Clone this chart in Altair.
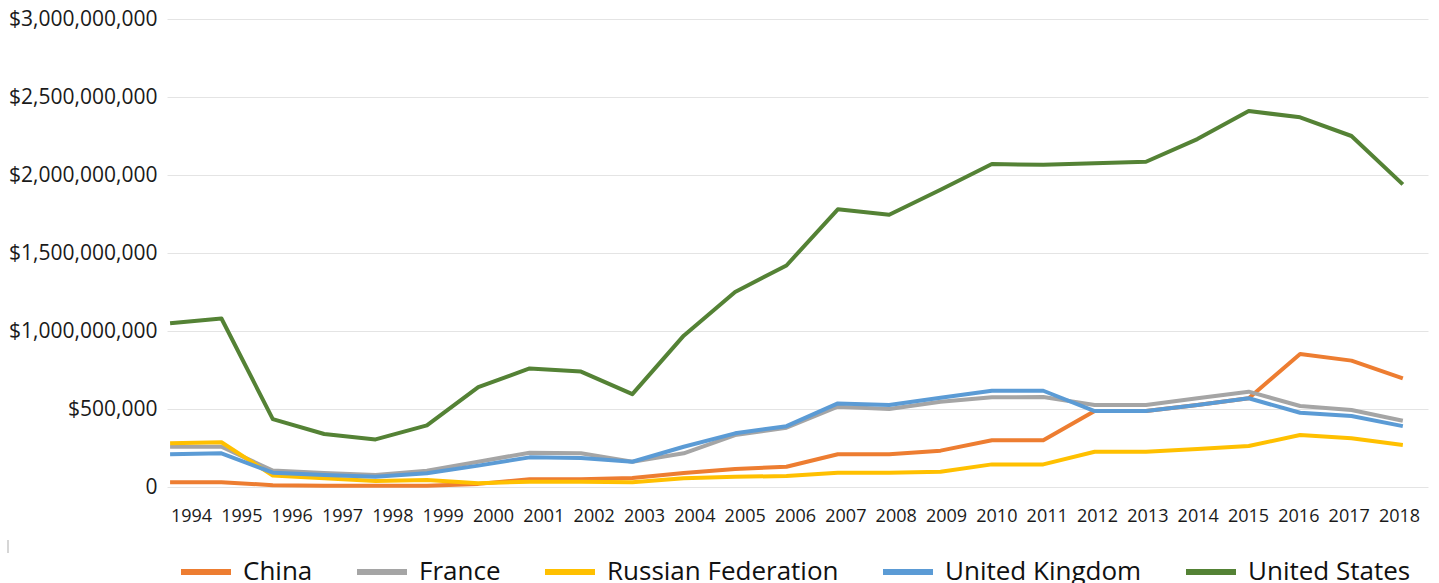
import altair as alt
import pandas as pd

# Arms transfers by supplier, US dollars (values in millions)
years = list(range(1994, 2019))
countries = ["China", "France", "Russian Federation", "United Kingdom", "United States"]
colors = ["#ED7D31", "#A5A5A5", "#FFC000", "#5B9BD5", "#548235"]

china = [30, 30, 12, 8, 8, 8, 20, 50, 50, 58, 90, 115, 130, 210, 210, 233, 300, 300,
         487, 487, 526, 569, 853, 810, 697]
france = [258, 258, 105, 90, 77, 105, 162, 220, 216, 162, 216, 333, 380, 515, 500, 547,
          575, 577, 526, 526, 569, 611, 519, 494, 425]
russia = [280, 287, 73, 56, 38, 45, 24, 34, 34, 30, 56, 66, 70, 92, 92, 98, 145, 145,
          226, 226, 244, 263, 333, 312, 269]
uk = [210, 216, 92, 77, 66, 88, 137, 190, 186, 162, 258, 344, 390, 536, 526, 572, 617,
      617, 487, 487, 526, 569, 476, 455, 390]
us = [1050, 1080, 435, 340, 305, 395, 640, 760, 740, 595, 970, 1250, 1420, 1780, 1745,
      1905, 2070, 2065, 2075, 2085, 2230, 2410, 2370, 2250, 1940]

series = {"China": china, "France": france, "Russian Federation": russia,
          "United Kingdom": uk, "United States": us}

rows = []
for order, name in enumerate(countries):
    for yr, v in zip(years, series[name]):
        rows.append({"Year": yr, "Country": name, "Value": v * 1_000_000, "order": order})
df = pd.DataFrame(rows)

FONT = "Open Sans"

y_enc = alt.Y(
    "Value:Q",
    scale=alt.Scale(domain=[0, 3_000_000_000], nice=False),
    axis=alt.Axis(
        values=[0, 500_000_000, 1_000_000_000, 1_500_000_000, 2_000_000_000,
                2_500_000_000, 3_000_000_000],
        labelExpr="datum.value == 0 ? '0' : (datum.value == 500000000 ? '$500,000' : '$' + format(datum.value, ','))",
        title=None, domain=False, ticks=False, grid=True, gridColor="#e4e4e4",
        gridWidth=1, labelFont=FONT, labelFontSize=21, labelColor="#1a1a1a",
        labelPadding=10,
    ),
)

lines = alt.Chart(df).mark_line(strokeWidth=4, strokeJoin="round").encode(
    x=alt.X("Year:Q", scale=alt.Scale(domain=[1993.94, 2018.49], nice=False, zero=False),
            axis=None),
    y=y_enc,
    color=alt.Color(
        "Country:N",
        scale=alt.Scale(domain=countries, range=colors),
        legend=alt.Legend(
            title=None, orient="none", direction="horizontal", legendX=11, legendY=525,
            symbolType="stroke", symbolSize=2500, symbolStrokeWidth=6,
            labelFont=FONT, labelFontSize=26, labelColor="#111111", labelLimit=0,
            labelOffset=9, columnPadding=32, symbolOffset=0,
        ),
    ),
    order=alt.Order("order:Q"),
)

# Year labels along the bottom
year_axis = alt.Chart(pd.DataFrame({"Year": years, "Value": [0] * len(years)})).mark_point(
    opacity=0
).encode(
    x=alt.X("Year:Q", scale=alt.Scale(domain=[1993.523, 2018.576], nice=False, zero=False),
            axis=alt.Axis(values=years, format="d", title=None, domain=False, ticks=False,
                          grid=False, labelFont=FONT, labelFontSize=18,
                          labelColor="#1a1a1a", labelPadding=20, labelFlush=False,
                          labelOverlap=False)),
    y=y_enc,
)

# small mark at the lower-left corner
corner = alt.Chart(pd.DataFrame({"a": [0]})).mark_rule(color="#c8c8c8", strokeWidth=1.5).encode(
    x=alt.value(-159), y=alt.value(521), y2=alt.value(534)
)

chart = alt.layer(lines, year_axis, corner).resolve_scale(x="independent").properties(
    width=1261, height=468,
    padding={"left": 167, "top": 19, "right": 11, "bottom": 96},
    autosize=alt.AutoSizeParams(type="none"),
    background="white",
).configure_view(stroke=None)

chart.save("out.html", embed_options={"renderer": "svg", "actions": False})
